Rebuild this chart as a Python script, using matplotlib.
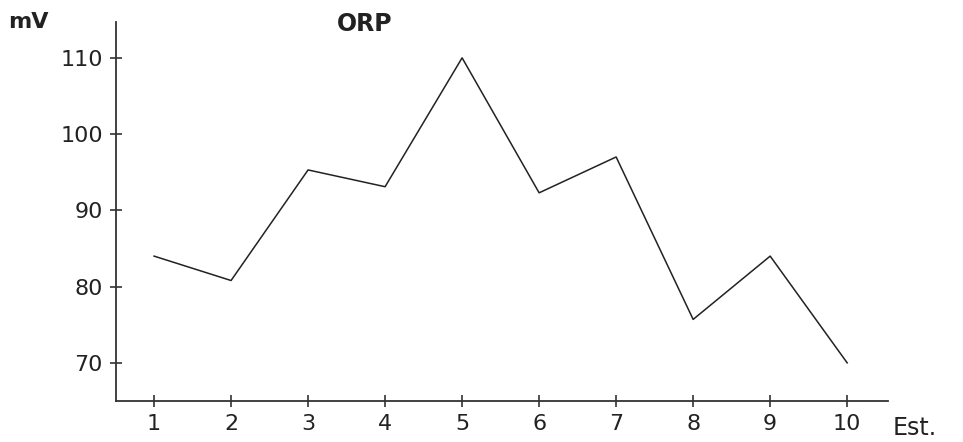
import matplotlib
matplotlib.use("Agg")
import matplotlib.pyplot as plt

stations = [1, 2, 3, 4, 5, 6, 7, 8, 9, 10]
orp_mv = [84, 80.8, 95.3, 93.1, 110, 92.3, 97, 75.7, 84, 70]
yticks = [70, 80, 90, 100, 110]

plt.rcParams['font.family'] = ['DejaVu Sans']

fig = plt.figure(figsize=(9.63, 4.42), dpi=100)
ax = fig.add_axes([116/963, 41/442, (888-116)/963, (401-22)/442])
ax.plot(stations, orp_mv, color='#222222', lw=1.1)
ax.set_xlim(0.506, 10.53)
ax.set_ylim(65.0, 114.7)
ax.set_xticks(stations)
ax.set_yticks(yticks)
ax.tick_params(direction='inout', length=9, width=1.1, labelsize=16, colors='#222222', pad=5)
for s in ['top', 'right']:
    ax.spines[s].set_visible(False)
for s in ['left', 'bottom']:
    ax.spines[s].set_color('#333333')
    ax.spines[s].set_linewidth(1.3)
fig.text(8/963, 1 - 22/442, 'mV', fontsize=16, fontweight='bold', va='center', ha='left', color='#222222')
fig.text(365/963, 1 - 24/442, 'ORP', fontsize=17, fontweight='bold', va='center', ha='center', color='#222222')
fig.text(915/963, 1 - 428/442, 'Est.', fontsize=17, va='center', ha='center', color='#222222')
fig.savefig('out.png', dpi=100)
